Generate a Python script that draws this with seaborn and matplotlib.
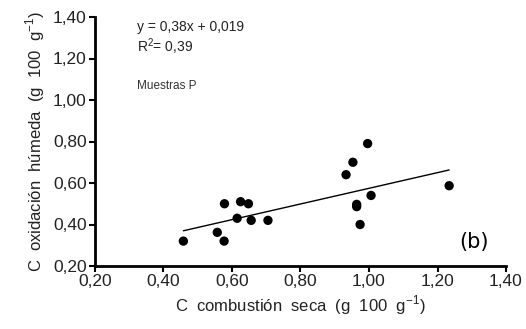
import numpy as np
import pandas as pd
import matplotlib
matplotlib.use("Agg")
import matplotlib.pyplot as plt
from matplotlib.ticker import FuncFormatter, MultipleLocator
import seaborn as sns

# Data
c_seca = [0.458, 0.557, 0.577, 0.578, 0.615, 0.625, 0.648, 0.656, 0.705,
          0.933, 0.953, 0.996, 0.964, 0.964, 0.974, 1.006, 1.234]
c_humeda = [0.32, 0.362, 0.32, 0.50, 0.43, 0.51, 0.50, 0.42, 0.42,
            0.64, 0.70, 0.79, 0.497, 0.486, 0.40, 0.54, 0.587]
equation_text = "y = 0,38x + 0,019"
r2_text = r"R$^{\mathregular{2}}$= 0,39"
sample_text = "Muestras P"
panel_text = "(b)"
xlabel = r"C  combustión  seca  (g  100  g$^{\mathregular{-1}}$)"
ylabel = r"C  oxidación  húmeda  (g  100  g$^{\mathregular{-1}}$)"

df = pd.DataFrame({"x": c_seca, "y": c_humeda})

sns.set_theme(style="ticks")
plt.rcParams['font.family'] = ['Liberation Sans Narrow', 'Liberation Sans', 'DejaVu Sans']
plt.rcParams['mathtext.fontset'] = 'custom'

fig = plt.figure(figsize=(5.26, 3.29), dpi=100)
ax = fig.add_axes([95/526, 1-266/329, (506-95)/526, (266-17)/329])

sns.regplot(data=df, x="x", y="y", ax=ax, ci=None, truncate=True,
            scatter_kws=dict(s=45, color="black", edgecolor="none", alpha=1),
            line_kws=dict(color="black", lw=1.0))

ax.set_xlim(0.2, 1.4)
ax.set_ylim(0.2, 1.4)
ax.xaxis.set_major_locator(MultipleLocator(0.2))
ax.yaxis.set_major_locator(MultipleLocator(0.2))
fmt = FuncFormatter(lambda v, p: f"{v:.2f}".replace('.', ','))
ax.xaxis.set_major_formatter(fmt)
ax.yaxis.set_major_formatter(fmt)

for s in ["top", "right"]:
    ax.spines[s].set_visible(False)
for s in ["left", "bottom"]:
    ax.spines[s].set_linewidth(2)
    ax.spines[s].set_color("black")
ax.tick_params(axis="both", length=4, width=1.5, color="black",
               labelsize=12.5, labelcolor="#222222", pad=2)

ax.set_xlabel(xlabel, fontsize=12, color="#222222", labelpad=3)
ax.set_ylabel(ylabel, fontsize=12, color="#222222", labelpad=4)

ax.text(137/526, 1-27/329, equation_text, transform=fig.transFigure,
        fontsize=10, color="#222222", va="center", ha="left")
ax.text(137/526, 1-47/329, r2_text, transform=fig.transFigure,
        fontsize=10, color="#222222", va="center", ha="left")
ax.text(137/526, 1-86/329, sample_text, transform=fig.transFigure,
        fontsize=8.5, color="#333333", va="center", ha="left")
ax.text(474/526, 1-242/329, panel_text, transform=fig.transFigure,
        fontsize=15, color="black", va="center", ha="center",
        family=['DejaVu Sans'])

fig.savefig("out.png", dpi=100)
